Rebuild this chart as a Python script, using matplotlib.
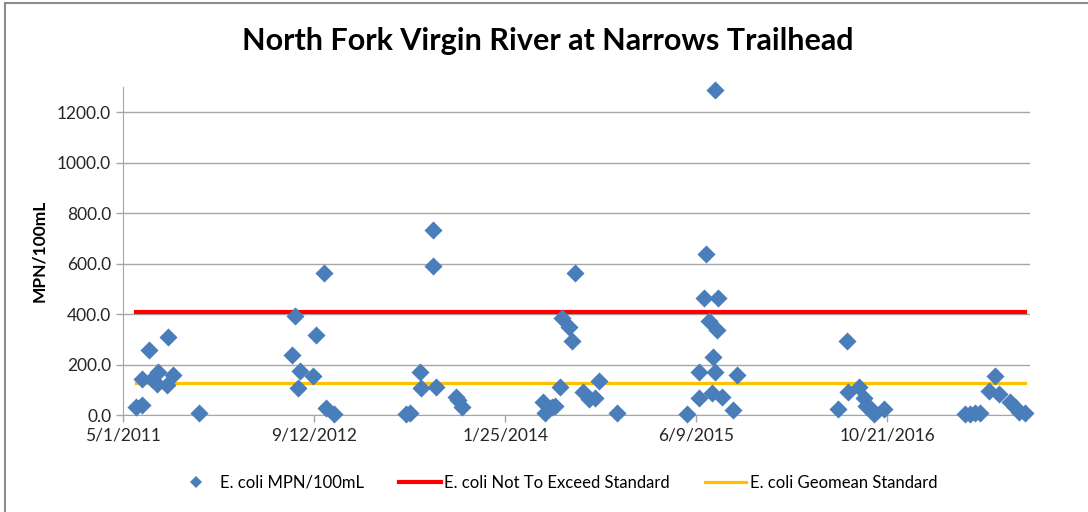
import matplotlib
matplotlib.use("Agg")
import matplotlib.pyplot as plt
from matplotlib.lines import Line2D
import pandas as pd

# Sample dates and E. coli values (MPN/100mL)
sample_dates = [
    "2011-06-05", "2011-06-19", "2011-06-20", "2011-07-08", "2011-07-17", "2011-08-01",
    "2011-07-29", "2011-08-25", "2011-09-08", "2011-08-27", "2011-11-16",
    "2012-07-17", "2012-07-24", "2012-08-05", "2012-08-02", "2012-09-08", "2012-09-17",
    "2012-10-08", "2012-10-13", "2012-11-04",
    "2013-05-11", "2013-05-21", "2013-06-16", "2013-06-18", "2013-07-20", "2013-07-21",
    "2013-07-28", "2013-09-18", "2013-09-24", "2013-10-05",
    "2014-05-03", "2014-05-09", "2014-05-27", "2014-06-05", "2014-06-18", "2014-06-22",
    "2014-07-10", "2014-07-20", "2014-07-27", "2014-08-16", "2014-08-31", "2014-09-18",
    "2014-09-28", "2014-11-13",
    "2015-05-15", "2015-06-15", "2015-06-17", "2015-06-28", "2015-07-05", "2015-07-11",
    "2015-07-20", "2015-07-22", "2015-07-29", "2015-07-29", "2015-08-02", "2015-08-05",
    "2015-08-15", "2015-09-12", "2015-09-23",
    "2016-06-13", "2016-07-06", "2016-07-10", "2016-08-07", "2016-08-20", "2016-08-25",
    "2016-09-05", "2016-09-17", "2016-10-13",
    "2017-05-13", "2017-05-26", "2017-06-08", "2017-06-21", "2017-07-13", "2017-07-30",
    "2017-08-08", "2017-09-07", "2017-09-20", "2017-10-01", "2017-10-16",
]
ecoli = [
    33, 40, 141, 257, 141, 171, 123, 119, 158, 310, 7,
    238, 392, 176, 108, 154, 317, 561, 26, 3,
    3, 7, 172, 106, 590, 733, 112, 73, 59, 33,
    53, 7, 33, 36, 112, 383, 347, 294, 563, 92, 62, 66, 135, 7,
    4, 66, 172, 462, 640, 373, 86, 231, 169, 1290, 337, 462, 70, 20, 158,
    23, 293, 92, 110, 66, 36, 26, 4, 23,
    4, 2, 7, 9, 96, 154, 83, 53, 30, 13, 7,
]
not_to_exceed = 410
geomean_std = 126

tick_dates = ["2011-05-01", "2012-09-12", "2014-01-25", "2015-06-09", "2016-10-21"]
tick_labels = ["5/1/2011", "9/12/2012", "1/25/2014", "6/9/2015", "10/21/2016"]

dates = pd.to_datetime(sample_dates)
ticks = pd.to_datetime(tick_dates)

plt.rcParams["font.family"] = ["Lato", "DejaVu Sans"]

fig = plt.figure(figsize=(10.88, 5.12), dpi=100)
ax = fig.add_axes([123 / 1088, 1 - 415 / 512, (1030 - 123) / 1088, (415 - 87) / 512])

grid_c = "#A6A6A6"
ax.set_axisbelow(True)
ax.grid(axis="y", color=grid_c, linewidth=1.0)

ax.scatter(dates, ecoli, marker="D", s=85, color="#4A7EBB", zorder=3,
           linewidths=0, clip_on=False)
span = [dates.min(), dates.max()]
ax.plot(span, [not_to_exceed] * 2, color="#FF0000", linewidth=3.0, zorder=2)
ax.plot(span, [geomean_std] * 2, color="#FFC000", linewidth=2.3, zorder=2)

ax.set_xlim(pd.Timestamp("2011-05-01"), pd.Timestamp("2017-10-29"))
ax.set_ylim(0, 1300)
ax.set_yticks(range(0, 1201, 200))
ax.set_yticklabels([f"{v:.1f}" for v in range(0, 1201, 200)])
ax.set_xticks(ticks)
ax.set_xticklabels(tick_labels)

for side in ["top", "right"]:
    ax.spines[side].set_visible(False)
for side in ["left", "bottom"]:
    ax.spines[side].set_color(grid_c)
ax.tick_params(axis="both", colors=grid_c, labelcolor="#262626", labelsize=12.5,
               length=5, width=1)
ax.tick_params(axis="x", pad=4)

ax.set_ylabel("MPN/100mL", fontsize=12.5, fontweight="bold", labelpad=7)

fig.text(548 / 1088, 1 - 41 / 512, "North Fork Virgin River at Narrows Trailhead",
         ha="center", va="center", fontsize=22, fontweight="bold")

handles = [
    Line2D([], [], marker="D", linestyle="none", color="#4A7EBB", markersize=6,
           markeredgewidth=0),
    Line2D([], [], color="#FF0000", linewidth=3.0),
    Line2D([], [], color="#FFC000", linewidth=2.3),
]
labels = ["E. coli MPN/100mL", "E. coli Not To Exceed Standard", "E. coli Geomean Standard"]
fig.legend(handles, labels, loc="center", bbox_to_anchor=(556 / 1088, 1 - 483 / 512),
           ncol=3, frameon=False, fontsize=12, handlelength=2.5, handletextpad=0.2,
           columnspacing=2.1)

# chart border
fig.add_artist(Line2D([5 / 1088, 5 / 1088], [0, 1 - 3 / 512], color="#8C8C8C",
                      linewidth=1.5, transform=fig.transFigure))
fig.add_artist(Line2D([5 / 1088, 1], [1 - 3 / 512, 1 - 3 / 512], color="#8C8C8C",
                      linewidth=1.5, transform=fig.transFigure))

fig.savefig("out.png", dpi=100)
